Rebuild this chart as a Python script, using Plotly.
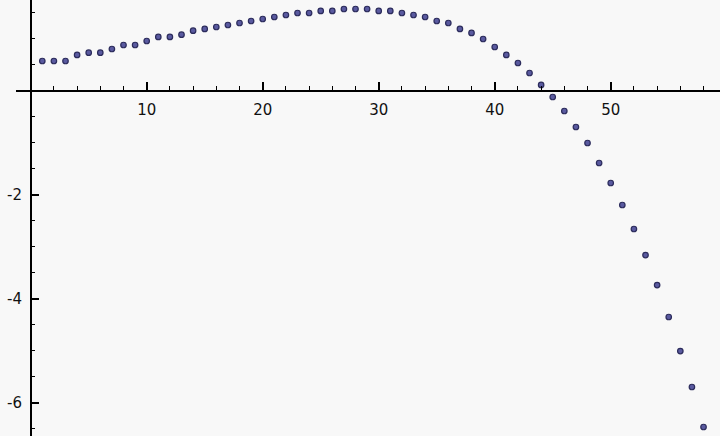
import plotly.graph_objects as go

# Data (x = 1..58)
x_vals = list(range(1, 59))
y_vals = [0.571, 0.571, 0.571, 0.687, 0.731, 0.731, 0.802, 0.879, 0.879, 0.956,
          1.033, 1.033, 1.077, 1.154, 1.187, 1.225, 1.263, 1.302, 1.340, 1.379,
          1.417, 1.456, 1.494, 1.494, 1.533, 1.533, 1.571, 1.571, 1.571, 1.533,
          1.533, 1.494, 1.456, 1.417, 1.340, 1.302, 1.187, 1.110, 0.994, 0.840,
          0.687, 0.533, 0.340, 0.110, -0.121, -0.390, -0.698, -1.006, -1.390, -1.775,
          -2.198, -2.660, -3.160, -3.737, -4.352, -5.006, -5.698, -6.467]

x_tick_vals = [10, 20, 30, 40, 50]
y_tick_vals = [-6, -4, -2]

W, H = 720, 436
x_range = [-1.267, 59.42]
y_range = [-6.640, 1.744]
x_dom0 = 16 / W

# axes cross at the origin
y_axis_pos = x_dom0 + (0 - x_range[0]) / (x_range[1] - x_range[0]) * (1 - x_dom0)
x_axis_pos = (0 - y_range[0]) / (y_range[1] - y_range[0])

fig = go.Figure()
fig.add_trace(go.Scatter(
    x=x_vals, y=y_vals, mode="markers",
    marker=dict(size=5.5, color="#5a5aa0", line=dict(width=1.2, color="#2c2c5c")),
    showlegend=False, hoverinfo="skip",
))

font = dict(family="DejaVu Sans, Liberation Sans, sans-serif", size=15, color="#111111")

fig.update_layout(
    width=W, height=H,
    margin=dict(l=0, r=0, t=0, b=0),
    paper_bgcolor="#f8f8f8", plot_bgcolor="#f8f8f8",
    xaxis=dict(
        domain=[x_dom0, 1], range=x_range, anchor="free", position=x_axis_pos,
        showgrid=False, zeroline=False, showline=True, linecolor="#000000", linewidth=1.5,
        tickmode="array", tickvals=x_tick_vals, ticktext=[str(v) for v in x_tick_vals],
        ticks="inside", ticklen=8, tickwidth=1.5, tickcolor="#000000",
        ticklabelstandoff=6, tickfont=font,
        minor=dict(tickmode="linear", tick0=0, dtick=2, ticks="inside", ticklen=4,
                   tickwidth=1.3, tickcolor="#000000", showgrid=False),
    ),
    yaxis=dict(
        domain=[0, 1], range=y_range, anchor="free", position=y_axis_pos,
        showgrid=False, zeroline=False, showline=True, linecolor="#000000", linewidth=1.5,
        tickmode="array", tickvals=y_tick_vals, ticktext=[str(v) for v in y_tick_vals],
        ticks="inside", ticklen=8, tickwidth=1.5, tickcolor="#000000",
        ticklabelstandoff=5, tickfont=font,
        minor=dict(tickmode="linear", tick0=0, dtick=0.5, ticks="inside", ticklen=4,
                   tickwidth=1.3, tickcolor="#000000", showgrid=False),
    ),
)

fig.write_html("out.html", config={"displayModeBar": False},
               post_script="document.body.style.margin='0';")
